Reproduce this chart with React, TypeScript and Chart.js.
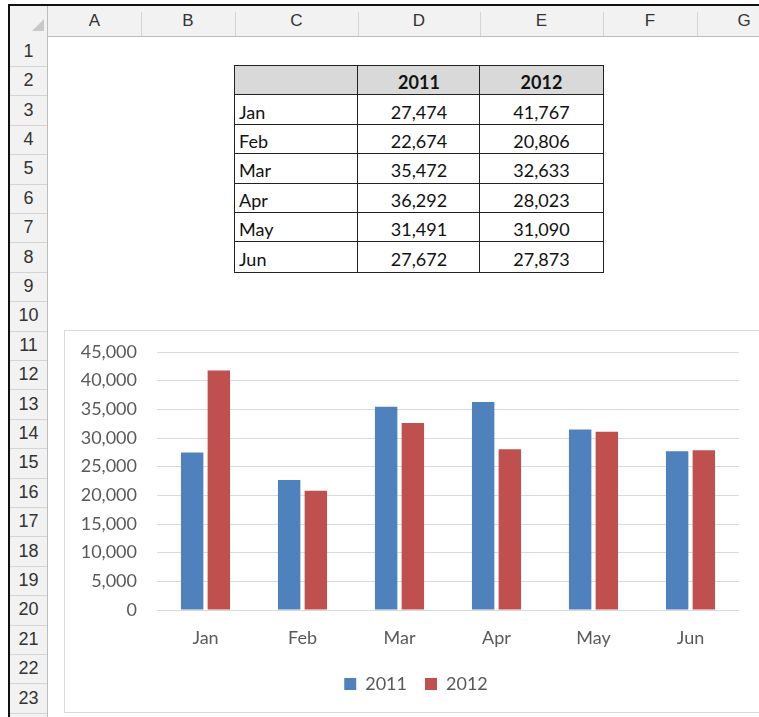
import React, { useEffect, useRef } from "react";
import { Chart, registerables } from "chart.js";

Chart.register(...registerables);

// ---- data ----
const months = ["Jan", "Feb", "Mar", "Apr", "May", "Jun"];
const sales2011 = [27474, 22674, 35472, 36292, 31491, 27672];
const sales2012 = [41767, 20806, 32633, 28023, 31090, 27873];
const seriesNames = ["2011", "2012"];
const columnLetters = ["A", "B", "C", "D", "E", "F", "G"];
const rowNumbers = Array.from({ length: 23 }, (_, i) => i + 1);

// ---- layout (sheet geometry) ----
const COL_EDGES = [48, 141, 235, 358, 480, 603, 697, 791];
const ROW_TOP = 36.6;
const ROW_H = 29.4;
const rowTop = (n: number) => ROW_TOP + (n - 1) * ROW_H;

const BLUE = "#4f81bd";
const RED = "#c0504d";
const TICK = "#595959";
const CHART_FONT = "Lato, 'Open Sans', sans-serif";
const SHEET_FONT = "'Liberation Sans', Arial, sans-serif";

const fmt = (v: number) => v.toLocaleString("en-US");

// The Excel chart object is wider than the visible window, so its legend is
// centred a little to the right of the visible plot centre.
const legendShift = {
  id: "legendShift",
  afterLayout(chart: any) {
    const l = chart.legend;
    if (l) {
      l.left += 14;
      l.right += 14;
    }
  },
};

function BarChart() {
  const ref = useRef<HTMLCanvasElement | null>(null);
  useEffect(() => {
    if (!ref.current) return;
    const chart = new Chart(ref.current, {
      type: "bar",
      data: {
        labels: months,
        datasets: [
          { label: seriesNames[0], data: sales2011, backgroundColor: BLUE, barPercentage: 0.84, categoryPercentage: 0.55 },
          { label: seriesNames[1], data: sales2012, backgroundColor: RED, barPercentage: 0.84, categoryPercentage: 0.55 },
        ],
      },
      plugins: [legendShift],
      options: {
        responsive: false,
        animation: false,
        devicePixelRatio: 1,
        layout: { padding: { top: 21, left: 0, right: 20, bottom: 8 } },
        plugins: {
          tooltip: { enabled: false },
          legend: {
            position: "bottom",
            labels: {
              boxWidth: 12,
              boxHeight: 12,
              padding: 18,
              color: TICK,
              font: { family: CHART_FONT, size: 18 },
            },
          },
        },
        scales: {
          x: {
            grid: { display: false, drawTicks: false },
            border: { display: false },
            ticks: { color: TICK, font: { family: CHART_FONT, size: 18 }, padding: 17 },
            afterFit: (s: any) => { s.height = 47; },
          },
          y: {
            min: 0,
            max: 45000,
            ticks: {
              stepSize: 5000,
              color: TICK,
              padding: 0,
              font: { family: CHART_FONT, size: 18 },
              callback: (v: any) => fmt(Number(v)),
            },
            grid: { color: "#d9d9d9", drawTicks: true, tickLength: 20, tickColor: "rgba(0,0,0,0)", lineWidth: 1 },
            border: { display: false },
            afterFit: (s: any) => { s.width = 92; },
          },
        },
      },
    });
    return () => chart.destroy();
  }, []);
  return (
    <canvas
      ref={ref}
      width={694}
      height={380}
      style={{ position: "absolute", left: 65, top: 331, width: 694, height: 380 }}
    />
  );
}

export default function App() {
  const headerBg = "#f2f2f2";
  const sepColor = "#d4d4d4";
  const els: React.ReactNode[] = [];

  // column header row
  els.push(
    <div key="hdr" style={{ position: "absolute", left: 10, top: 6, width: 760, height: ROW_TOP - 6, background: headerBg, borderBottom: "1px solid #bdbdbd", boxSizing: "border-box" }} />
  );
  // row header column
  els.push(
    <div key="rhdr" style={{ position: "absolute", left: 10, top: 6, width: 38, height: 720, background: headerBg, borderRight: "1px solid #bdbdbd", boxSizing: "border-box" }} />
  );
  // corner triangle
  els.push(
    <div key="tri" style={{ position: "absolute", left: 32, top: 19, width: 0, height: 0, borderLeft: "12px solid transparent", borderBottom: "12px solid #c8c8c8" }} />
  );
  // column letters + separators
  columnLetters.forEach((c, i) => {
    const l = COL_EDGES[i];
    const r = COL_EDGES[i + 1];
    els.push(
      <div key={"c" + c} style={{ position: "absolute", left: l, top: 6, width: r - l, height: ROW_TOP - 6, display: "flex", alignItems: "center", justifyContent: "center", fontFamily: SHEET_FONT, fontSize: 17, color: "#333" }}>{c}</div>
    );
    els.push(
      <div key={"cs" + c} style={{ position: "absolute", left: r, top: 12, width: 1, height: ROW_TOP - 13, background: sepColor }} />
    );
  });
  // row numbers + separators
  rowNumbers.forEach((n) => {
    const t = rowTop(n);
    els.push(
      <div key={"r" + n} style={{ position: "absolute", left: 10, top: t, width: 37, height: ROW_H, display: "flex", alignItems: "center", justifyContent: "center", fontFamily: SHEET_FONT, fontSize: 18, color: "#333" }}>{n}</div>
    );
    els.push(
      <div key={"rs" + n} style={{ position: "absolute", left: 10, top: t + ROW_H, width: 37, height: 1, background: sepColor }} />
    );
  });

  // data table
  const tCols = [2, 3, 4]; // C, D, E
  const tableRows: string[][] = [
    ["", seriesNames[0], seriesNames[1]],
    ...months.map((m, i) => [m, fmt(sales2011[i]), fmt(sales2012[i])]),
  ];
  tableRows.forEach((row, ri) => {
    const t = rowTop(2 + ri);
    row.forEach((txt, ci) => {
      const l = COL_EDGES[tCols[ci]];
      const r = COL_EDGES[tCols[ci] + 1];
      const header = ri === 0;
      els.push(
        <div
          key={`t${ri}-${ci}`}
          style={{
            position: "absolute",
            left: l - 1,
            top: t - 1,
            width: r - l + 2,
            height: ROW_H + 2,
            boxSizing: "border-box",
            border: "1.6px solid #222",
            background: header ? "#d9d9d9" : "#fff",
            display: "flex",
            alignItems: "center",
            justifyContent: ci === 0 ? "flex-start" : "center",
            paddingLeft: ci === 0 ? 4 : 0,
            paddingTop: 3,
            fontFamily: CHART_FONT,
            fontSize: 18,
            fontWeight: header ? 700 : 400,
            color: "#111",
          }}
        >
          {txt}
        </div>
      );
    });
  });

  // chart box
  els.push(
    <div key="cbox" style={{ position: "absolute", left: 64, top: 330, width: 720, height: 383, background: "#fff", border: "1px solid #d9d9d9", boxSizing: "border-box" }} />
  );

  // outer black border
  els.push(<div key="bt" style={{ position: "absolute", left: 8, top: 4, width: 760, height: 2, background: "#111" }} />);
  els.push(<div key="bl" style={{ position: "absolute", left: 8, top: 4, width: 2, height: 720, background: "#111" }} />);

  return (
    <div style={{ position: "absolute", left: 0, top: 0, width: 759, height: 717, overflow: "hidden", background: "#fff" }}>
      {els}
      <BarChart />
    </div>
  );
}
